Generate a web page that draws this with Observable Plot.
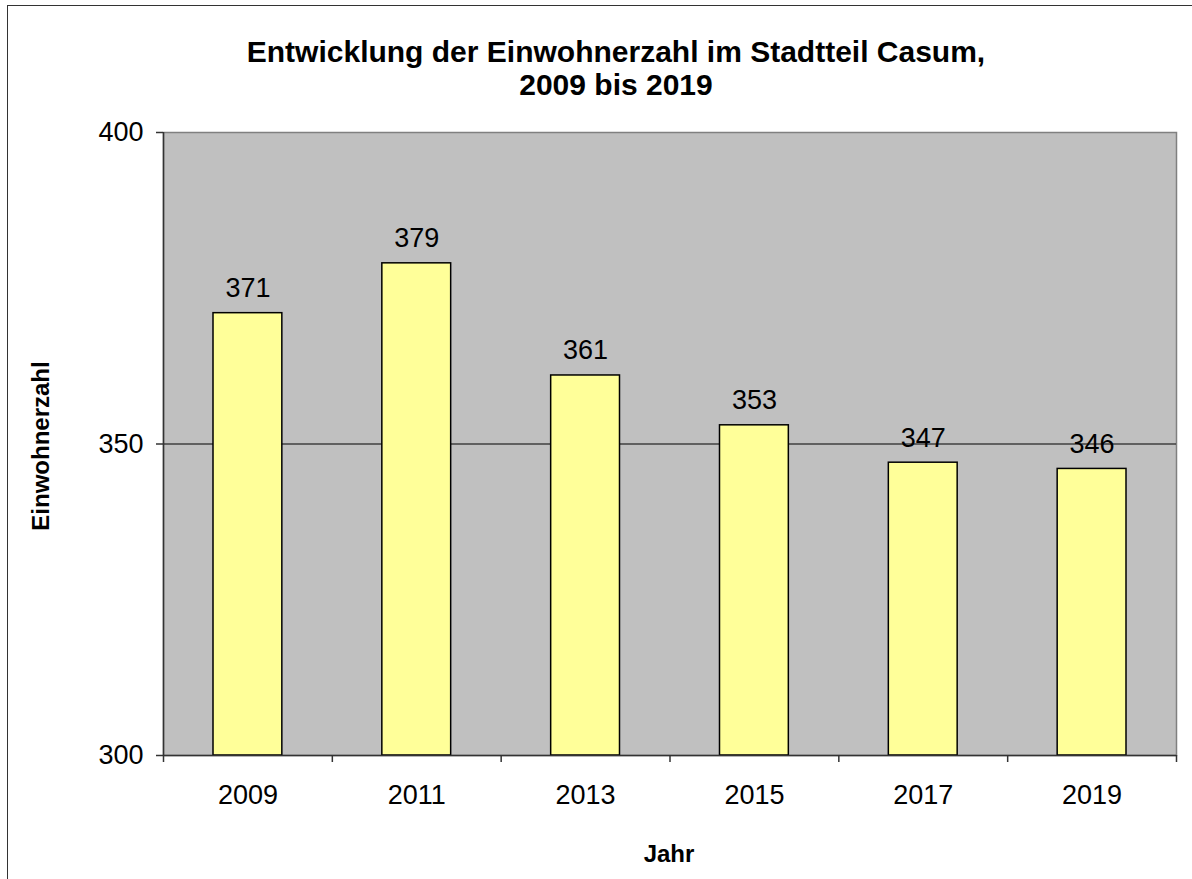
<!DOCTYPE html>
<html>
<head>
<meta charset="utf-8">
<script src="https://cdn.jsdelivr.net/npm/d3@7"></script>
<script src="https://cdn.jsdelivr.net/npm/@observablehq/plot@0.6"></script>
<style>
  html, body { margin: 0; padding: 0; background: #fff; }
  #wrap { position: relative; width: 1192px; height: 879px; overflow: hidden; font-family: "Liberation Sans", Arial, sans-serif; color: #000; }
  #border { position: absolute; left: 7px; top: 5px; width: 1200px; height: 900px; border-left: 1px solid #333; border-top: 1px solid #333; box-sizing: border-box; }
  #title { position: absolute; left: 0; top: 35px; width: 1232px; text-align: center; font-weight: bold; font-size: 30px; line-height: 33px; }
  #chart { position: absolute; left: 0; top: 0; }
  .axtitle { position: absolute; font-weight: bold; font-size: 24px; line-height: 24px; white-space: nowrap; }
  #ylab { left: 41px; top: 446px; transform: translate(-50%, -50%) rotate(-90deg); }
  #xlab { left: 669px; top: 842px; transform: translateX(-50%); }
</style>
</head>
<body>
<div id="wrap">
  <div id="border"></div>
  <div id="chart"></div>
  <div id="title">Entwicklung der Einwohnerzahl im Stadtteil Casum,<br>2009 bis 2019</div>
  <div id="ylab" class="axtitle"></div>
  <div id="xlab" class="axtitle"></div>
</div>
<script>
const years = ["2009", "2011", "2013", "2015", "2017", "2019"];
const values = [371, 379, 361, 353, 347, 346];
const yTicks = [300, 350, 400];
const yLabel = "Einwohnerzahl";
const xLabel = "Jahr";

document.getElementById("ylab").textContent = yLabel;
document.getElementById("xlab").textContent = xLabel;

const data = years.map((y, i) => ({year: y, idx: i, value: values[i]}));
const boundaries = d3.range(years.length + 1);
const centers = years.map((_, i) => i + 0.5);

const font = "Liberation Sans, Arial, sans-serif";

const chart = Plot.plot({
  width: 1192,
  height: 879,
  marginLeft: 163,
  marginRight: 16,
  marginTop: 132,
  marginBottom: 124,
  style: {fontFamily: font, background: "transparent", color: "#000"},
  x: {type: "linear", domain: [0, years.length]},
  y: {domain: [300, 400]},
  marks: [
    Plot.frame({fill: "#C0C0C0", stroke: "#808080", strokeWidth: 1.5}),
    Plot.ruleY([350], {stroke: "#000", strokeWidth: 1}),
    Plot.rectY(data, {
      x1: d => d.idx, x2: d => d.idx + 1, y1: 300, y2: "value",
      insetLeft: 50, insetRight: 50,
      fill: "#FFFF99", stroke: "#000", strokeWidth: 1.5
    }),
    Plot.text(data, {
      x: d => d.idx + 0.5, y: "value", text: d => String(d.value),
      lineAnchor: "bottom", dy: -16, fontSize: 27, fill: "#000"
    }),
    Plot.ruleX([0], {stroke: "#333", strokeWidth: 1.5}),
    Plot.ruleY([300], {stroke: "#333", strokeWidth: 1.5}),
    Plot.axisY({ticks: yTicks, tickSize: 7, tickPadding: 13, fontSize: 27, label: null, stroke: "#333", strokeWidth: 1.5}),
    Plot.axisX({ticks: boundaries, tickFormat: () => "", tickSize: 7, label: null, stroke: "#333", strokeWidth: 1.5}),
    Plot.axisX({ticks: centers, tickFormat: v => years[Math.floor(v)], tickSize: 0, tickPadding: 29, fontSize: 27, label: null})
  ]
});
document.getElementById("chart").appendChild(chart);
</script>
</body>
</html>
